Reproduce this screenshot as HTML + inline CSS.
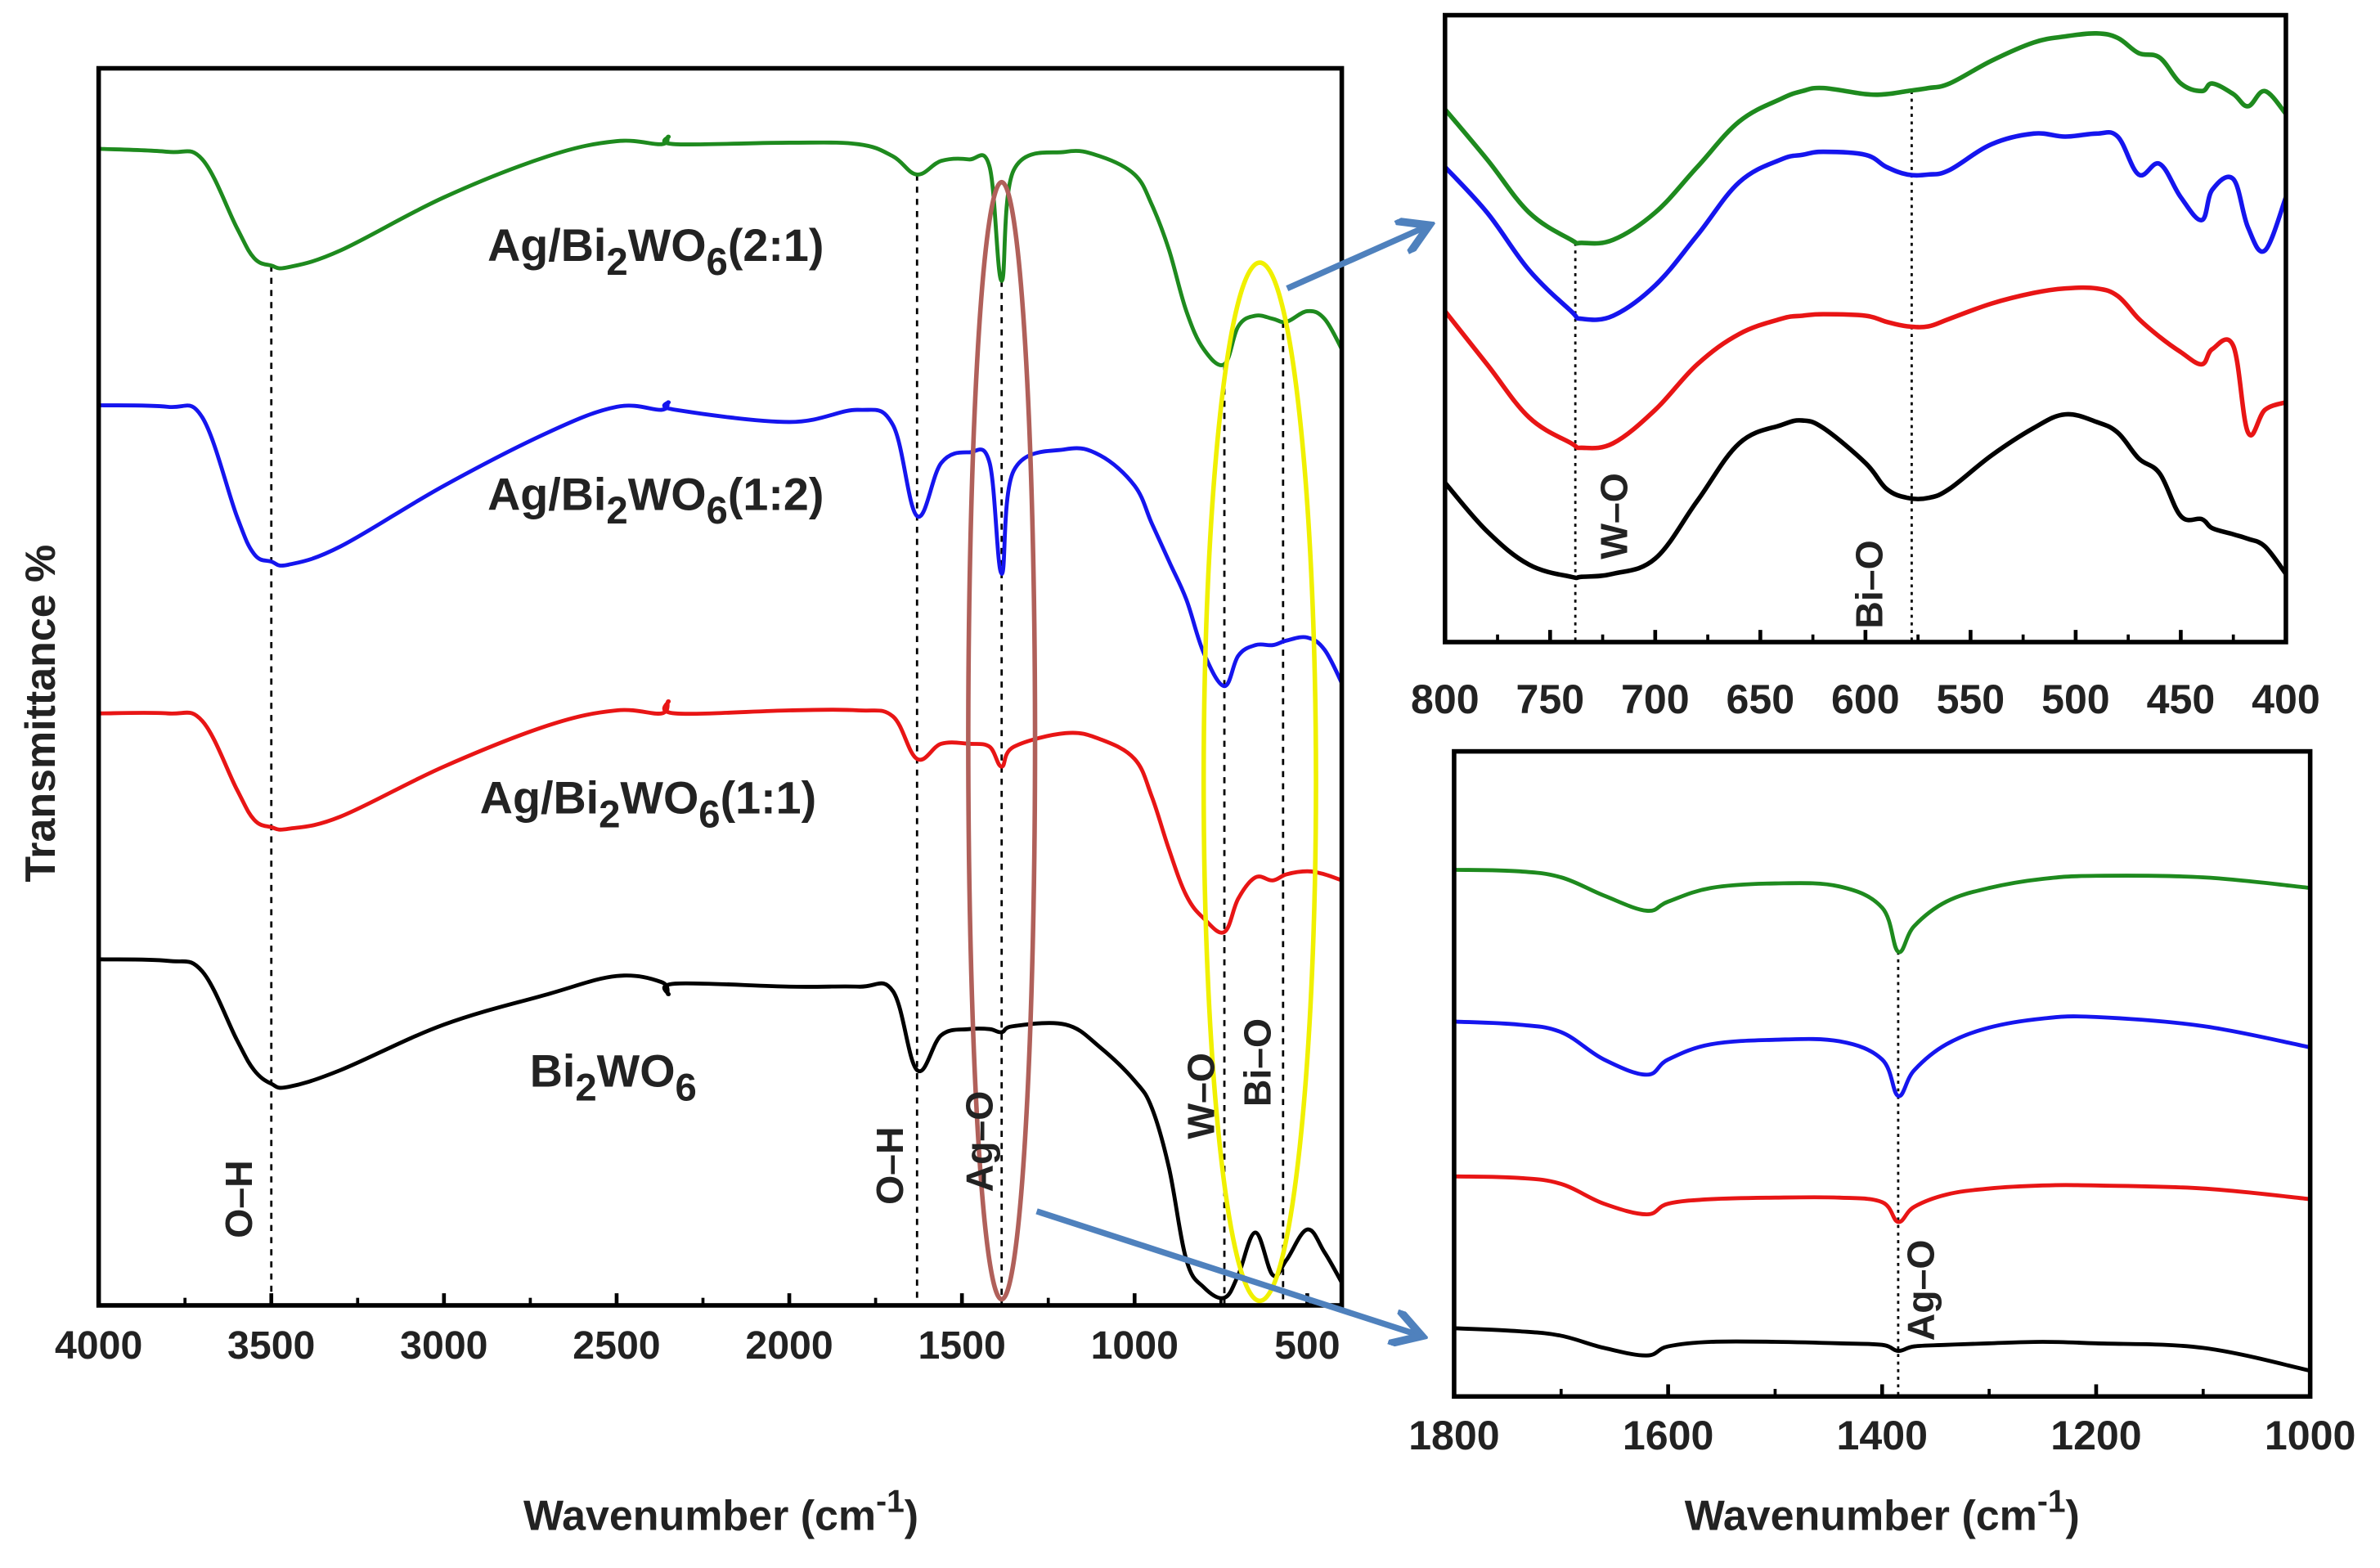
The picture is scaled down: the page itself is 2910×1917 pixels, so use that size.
<!DOCTYPE html>
<html><head><meta charset="utf-8"><style>
html,body{margin:0;padding:0;background:#fff}
svg{display:block}
text{font-family:"Liberation Sans",Arial,sans-serif;font-weight:bold;fill:#222}
</style></head><body>
<svg id="fig" width="2910" height="1917" viewBox="0 0 1568 1033" preserveAspectRatio="none" xmlns="http://www.w3.org/2000/svg">
<g id="main"></g>
<g id="insetTop"></g>
<g id="insetBot"></g>
<g id="ann"></g>
</svg>
<script>
// ---- main chart data (wavenumber cm-1, plotted position in display units) ----
const mainWn = [4000,3800,3700,3600,3550,3500,3450,3300,3000,2700,2500,2370,2350,2330,2000,1800,1700,1630,1560,1480,1420,1385,1350,1200,1100,1000,950,900,850,800,740,700,650,600,560,500,450,400];
const mainGreen = [98,100,105,150,170,175,176,165,130,103,93,95,90,95,94,95,103,115,106,105,110,185,112,100,103,115,135,165,205,230,240,215,208,210,212,205,210,230];
const mainBlue = [267,268,275,340,365,370,372,360,320,285,268,270,265,270,278,270,280,340,305,298,305,378,310,296,300,320,345,370,395,430,452,432,425,425,422,420,428,450];
const mainRed = [470,470,475,520,540,545,546,538,505,478,468,470,462,470,468,468,472,500,490,490,492,505,492,483,487,500,525,560,590,605,614,592,578,580,576,574,576,580];
const mainBlack = [632,633,640,685,705,714,716,705,675,655,643,647,655,648,650,650,653,705,682,678,678,680,676,675,690,712,730,770,830,848,855,840,812,840,830,810,825,845];
const mainTicks = [4000,3500,3000,2500,2000,1500,1000,500];
const mainCurveLabels = ["Ag/Bi|2|WO|6|(2:1)","Ag/Bi|2|WO|6|(1:2)","Ag/Bi|2|WO|6|(1:1)","Bi|2|WO|6|"];
const mainDashes = [3500,1630,1385,740,570];

// ---- top inset (800-400) ----
const topWn = [800,780,760,740,735,720,700,680,660,640,630,620,600,590,580,570,560,540,520,505,490,480,470,460,450,440,435,425,418,410,400];
const topGreen = [72,105,140,158,160,158,140,110,80,65,60,58,62,62,60,58,55,40,28,24,22,25,35,38,55,60,55,62,70,60,75];
const topBlue = [110,140,178,205,210,208,188,155,120,105,102,100,102,110,115,115,112,95,88,90,88,90,115,108,130,145,125,118,150,165,130];
const topRed = [205,240,275,292,295,292,270,240,220,210,208,207,208,212,215,215,210,200,193,190,190,195,210,222,232,240,230,228,285,270,265];
const topBlack = [318,350,372,380,380,378,368,330,292,280,277,282,305,322,328,328,322,300,282,273,278,285,302,312,340,342,348,352,355,360,378];
const topTicks = [800,750,700,650,600,550,500,450,400];

// ---- bottom inset (1800-1000) ----
const botWn = [1800,1740,1700,1660,1620,1600,1560,1500,1440,1400,1385,1370,1340,1300,1250,1200,1100,1000];
const botGreen = [573,574,578,590,600,594,585,582,584,598,627,610,594,585,579,577,578,585];
const botBlue = [673,675,680,698,708,698,688,685,686,698,722,705,688,677,671,670,676,690];
const botRed = [775,776,780,793,800,793,790,789,789,792,805,795,787,783,781,781,783,790];
const botBlack = [875,877,880,888,893,887,884,884,885,886,890,887,886,885,884,885,888,903];
const botTicks = [1800,1600,1400,1200,1000];

const NS="http://www.w3.org/2000/svg";
function mk(tag,attrs,parent){const e=document.createElementNS(NS,tag);for(const k in attrs)e.setAttribute(k,attrs[k]);parent.appendChild(e);return e;}
function xScale(x0,x1,p0,p1){return v=>p0+(v-x0)/(x1-x0)*(p1-p0);}
function drawFrame(g,L,T,R,B){
  const f=mk('rect',{x:L,y:T,width:R-L,height:B-T,fill:'none',stroke:'#000','stroke-width':3},g);
  
  
}
function drawTicks(g,ticks,xs,B,labelY,fs){
  ticks.forEach((t,i)=>{
    const x=xs(t);
    const tk=mk('line',{x1:x,x2:x,y1:B,y2:B-8,stroke:'#000','stroke-width':2.5},g);
    
    
    const tx=mk('text',{x:x,y:labelY,'font-size':fs,'text-anchor':'middle'},g);
    tx.textContent=t;
    
    
    if(i<ticks.length-1){const xm=xs((t+ticks[i+1])/2);
      const mt=mk('line',{x1:xm,x2:xm,y1:B,y2:B-5,stroke:'#000','stroke-width':2},g);
      
      }
  });
}
function drawSeries(g,wn,vals,xs,color,name,w){
  const P=wn.map((v,i)=>[xs(v),vals[i]]);
  let d='M'+P[0][0].toFixed(1)+','+P[0][1];
  for(let i=0;i<P.length-1;i++){
    const p0=P[Math.max(0,i-1)],p1=P[i],p2=P[i+1],p3=P[Math.min(P.length-1,i+2)];
    const t=0.18;
    const c1=[p1[0]+(p2[0]-p0[0])*t,p1[1]+(p2[1]-p0[1])*t];
    const c2=[p2[0]-(p3[0]-p1[0])*t,p2[1]-(p3[1]-p1[1])*t];
    d+=` C${c1[0].toFixed(1)},${c1[1].toFixed(1)} ${c2[0].toFixed(1)},${c2[1].toFixed(1)} ${p2[0].toFixed(1)},${p2[1]}`;
  }
  const p=mk('path',{d:d,fill:'none',stroke:color,'stroke-width':w,'stroke-linejoin':'round'},g);
  
  
}
function vline(g,x,y1,y2,dash,name){
  const l=mk('line',{x1:x,x2:x,y1:y1,y2:y2,stroke:'#000','stroke-width':1.5,'stroke-dasharray':dash},g);
  
  
}
function subLabel(g,x,y,str,fs,name){
  const t=mk('text',{x:x,y:y,'font-size':fs,'text-anchor':'middle'},g);
  
  
  str.split('|').forEach((s,i)=>{ if(!s)return; const ts=mk('tspan',{},t); ts.textContent=s;
    if(i%2===1){ts.setAttribute('dy',fs*0.3);ts.setAttribute('font-size',fs*0.85);} else if(i>0){ts.setAttribute('dy',-fs*0.3);} });
}
function rotLabel(g,x,y,str,fs,name){
  const t=mk('text',{x:x,y:y,'font-size':fs,'text-anchor':'middle',transform:`rotate(-90 ${x} ${y})`},g);
  t.textContent=str;
  
  
}

// main
(function(){
  const g=document.getElementById('main');const L=65,T=45,R=884,B=860;
  const xs=xScale(4000,400,L,R);
  mainDashes.forEach(w=>{const top={3500:175,1630:115,1385:185,740:240,570:212}[w];vline(g,xs(w),top,B,'4,4','peak-guide-line');});
  drawSeries(g,mainWn,mainGreen,xs,'#1e8a1e','series-ag-bwo-2-1',2.6);
  drawSeries(g,mainWn,mainBlue,xs,'#1515ee','series-ag-bwo-1-2',2.6);
  drawSeries(g,mainWn,mainRed,xs,'#e81515','series-ag-bwo-1-1',2.6);
  drawSeries(g,mainWn,mainBlack,xs,'#000','series-bi2wo6',2.6);
  const e1=mk('ellipse',{cx:xs(1385),cy:488,rx:22,ry:368,fill:'none',stroke:'#b0605a','stroke-width':3},g);
  
  
  const e2=mk('ellipse',{cx:830,cy:515,rx:37,ry:342,fill:'none',stroke:'#f0f000','stroke-width':3},g);
  
  
  drawFrame(g,L,T,R,B);
  drawTicks(g,mainTicks,xs,B,895,26);
  const lx=[432,432,427,404],ly=[172,336,536,716];
  mainCurveLabels.forEach((s,i)=>subLabel(g,lx[i],ly[i],s,30,'curve-label'));
  const xt=mk('text',{x:475,y:1008,'font-size':28,'text-anchor':'middle'},g);
  
  
  xt.innerHTML='Wavenumber (cm<tspan dy="-12" font-size="21">-1</tspan><tspan dy="12">)</tspan>';
  rotLabel(g,36,470,'Transmittance %',28,'y-axis-title');
  rotLabel(g,166,790,'O–H',25,'oh-band-label');
  rotLabel(g,595,768,'O–H',25,'oh-band-label');
  rotLabel(g,654,752,'Ag–O',25,'ag-o-band-label');
  rotLabel(g,800,722,'W–O',25,'w-o-band-label');
  rotLabel(g,837,700,'Bi–O',25,'bi-o-band-label');
})();

// top inset
(function(){
  const g=document.getElementById('insetTop');const L=952,T=10,R=1506,B=423;
  const xs=xScale(800,400,L,R);
  vline(g,xs(738),160,B,'2,3','w-o-guide');vline(g,xs(578),60,B,'2,3','bi-o-guide');
  drawSeries(g,topWn,topGreen,xs,'#1e8a1e','inset-top-green',3);
  drawSeries(g,topWn,topBlue,xs,'#1515ee','inset-top-blue',3);
  drawSeries(g,topWn,topRed,xs,'#e81515','inset-top-red',3);
  drawSeries(g,topWn,topBlack,xs,'#000','inset-top-black',3);
  drawFrame(g,L,T,R,B);
  drawTicks(g,topTicks,xs,B,470,27);
  rotLabel(g,1072,340,'W–O',25,'w-o-label');
  rotLabel(g,1240,385,'Bi–O',25,'bi-o-label');
})();

// bottom inset
(function(){
  const g=document.getElementById('insetBot');const L=958,T=495,R=1522,B=920;
  const xs=xScale(1800,1000,L,R);
  vline(g,xs(1385),627,B,'2,3','ag-o-guide');
  drawSeries(g,botWn,botGreen,xs,'#1e8a1e','inset-bot-green',2.6);
  drawSeries(g,botWn,botBlue,xs,'#1515ee','inset-bot-blue',2.6);
  drawSeries(g,botWn,botRed,xs,'#e81515','inset-bot-red',2.6);
  drawSeries(g,botWn,botBlack,xs,'#000','inset-bot-black',2.6);
  drawFrame(g,L,T,R,B);
  drawTicks(g,botTicks,xs,B,955,27);
  rotLabel(g,1274,850,'Ag–O',25,'ag-o-label');
  const xt=mk('text',{x:1240,y:1008,'font-size':28,'text-anchor':'middle'},g);
  
  
  xt.innerHTML='Wavenumber (cm<tspan dy="-12" font-size="21">-1</tspan><tspan dy="12">)</tspan>';
})();

// arrows
(function(){
  const g=document.getElementById('ann');
  const defs=mk('defs',{},g);
  const m=mk('marker',{id:'ah',markerWidth:6,markerHeight:6,refX:4,refY:3,orient:'auto',markerUnits:'strokeWidth'},defs);
  mk('path',{d:'M0,0 L5,3 L0,6',fill:'none',stroke:'#4f81bd','stroke-width':1.3},m);
  const a1=mk('line',{x1:848,y1:190,x2:938,y2:150,stroke:'#4f81bd','stroke-width':4,'marker-end':'url(#ah)'},g);
  
  
  const a2=mk('line',{x1:683,y1:798,x2:933,y2:879,stroke:'#4f81bd','stroke-width':4,'marker-end':'url(#ah)'},g);
  
  
})();
</script>
</body></html>
